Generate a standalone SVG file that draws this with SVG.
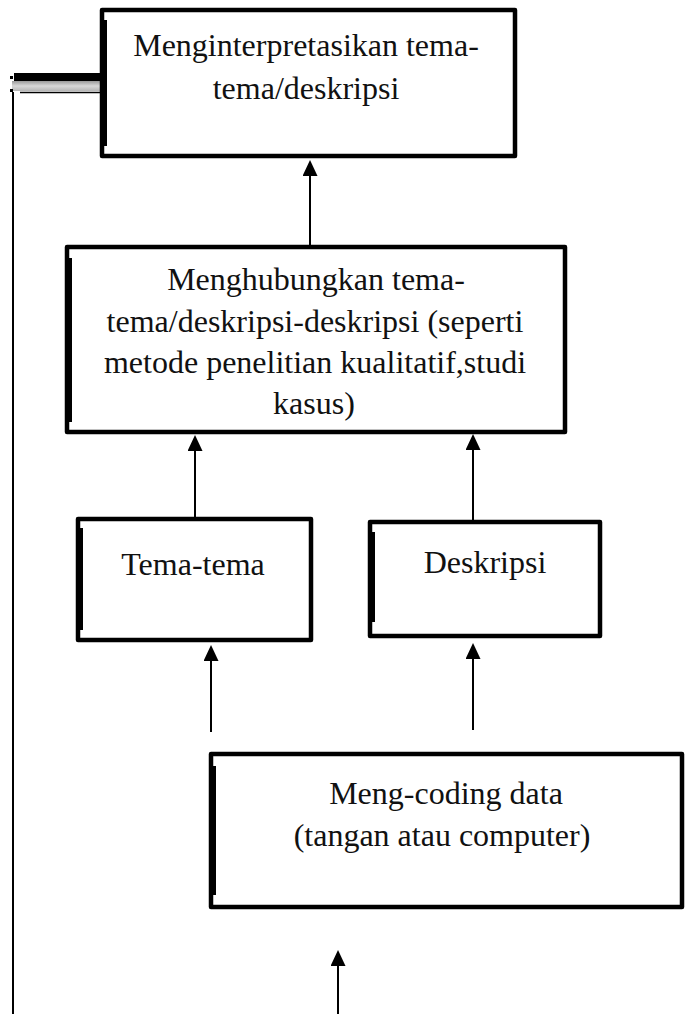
<svg xmlns="http://www.w3.org/2000/svg" width="686" height="1014" viewBox="0 0 686 1014">
  <style>
    .box { fill: #fff; stroke: #000; stroke-width: 4.5; stroke-linejoin: round; }
    .edge { stroke: #000; stroke-width: 3; }
    .lbl { font-family: "Liberation Serif", "Times New Roman", serif; font-size: 32px; fill: #111; text-anchor: middle; }
    .link { stroke: #000; stroke-width: 2; fill: none; }
  </style>
  <defs>
    <marker id="head" viewBox="0 0 16 15" refX="10" refY="7.5" markerWidth="16" markerHeight="15" markerUnits="userSpaceOnUse" orient="auto">
      <path d="M0,0 L16,7.5 L0,15 z" fill="#000"/>
    </marker>
    <linearGradient id="band" x1="0" y1="0" x2="0" y2="1">
      <stop offset="0" stop-color="#9a9a9a"/>
      <stop offset="0.5" stop-color="#d8d8d8"/>
      <stop offset="1" stop-color="#b5b5b5"/>
    </linearGradient>
  </defs>

  <!-- connectors -->
  <g id="connectors">
    <line class="link" x1="310" y1="247" x2="310" y2="166" marker-end="url(#head)"/>
    <line class="link" x1="195" y1="518" x2="195" y2="441" marker-end="url(#head)"/>
    <line class="link" x1="473" y1="521" x2="473" y2="440" marker-end="url(#head)"/>
    <line class="link" x1="211" y1="732" x2="211" y2="651" marker-end="url(#head)"/>
    <line class="link" x1="473" y1="730" x2="473" y2="649" marker-end="url(#head)"/>
    <line class="link" x1="338" y1="1014" x2="338" y2="956" marker-end="url(#head)"/>
    <!-- feedback line on the left -->
    <line class="link" x1="13" y1="92" x2="13" y2="1014"/>
    <rect x="14" y="73" width="88" height="8" fill="#000"/>
    <rect x="12" y="81" width="90" height="10" fill="url(#band)"/>
    <line x1="20" y1="92.5" x2="100" y2="92.5" stroke="#000" stroke-width="1.5"/>
    <rect x="10" y="76" width="3" height="3" fill="#000"/>
    <rect x="10" y="89" width="3" height="3" fill="#000"/>
  </g>

  <g id="node-interpretasi">
    <rect class="box" x="102" y="10" width="413" height="146"/>
    <line class="edge" x1="105.5" y1="20" x2="105.5" y2="146"/>
    <text class="lbl" x="306" y="56">Menginterpretasikan tema-</text>
    <text class="lbl" x="306" y="99">tema/deskripsi</text>
  </g>

  <g id="node-hubungkan">
    <rect class="box" x="67" y="247" width="498" height="185"/>
    <line class="edge" x1="70.5" y1="258" x2="70.5" y2="422"/>
    <text class="lbl" x="316" y="290">Menghubungkan tema-</text>
    <text class="lbl" x="315" y="332">tema/deskripsi-deskripsi (seperti</text>
    <text class="lbl" x="315" y="373">metode penelitian kualitatif,studi</text>
    <text class="lbl" x="314" y="414">kasus)</text>
  </g>

  <g id="node-tema">
    <rect class="box" x="78" y="519" width="233" height="121"/>
    <line class="edge" x1="81.5" y1="528" x2="81.5" y2="630"/>
    <text class="lbl" x="193" y="575">Tema-tema</text>
  </g>

  <g id="node-deskripsi">
    <rect class="box" x="370" y="522" width="230" height="114"/>
    <line class="edge" x1="373.5" y1="532" x2="373.5" y2="622"/>
    <text class="lbl" x="485" y="573">Deskripsi</text>
  </g>

  <g id="node-coding">
    <rect class="box" x="211" y="754" width="471" height="153"/>
    <line class="edge" x1="214.5" y1="766" x2="214.5" y2="895"/>
    <text class="lbl" x="446" y="804">Meng-coding data</text>
    <text class="lbl" x="442" y="846">(tangan atau computer)</text>
  </g>
</svg>
